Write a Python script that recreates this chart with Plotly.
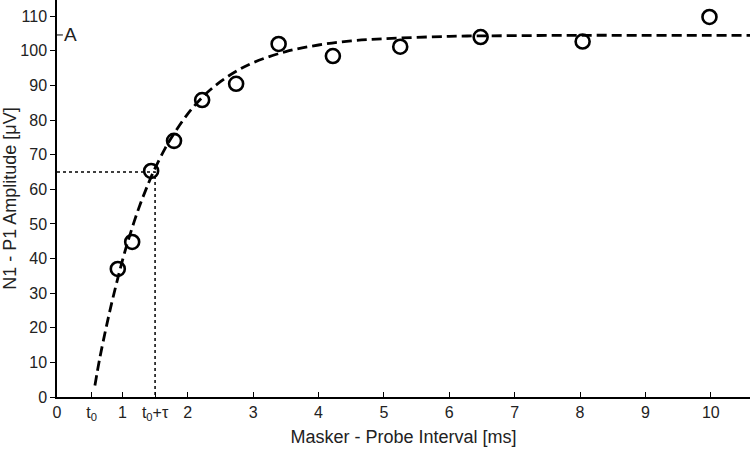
import plotly.graph_objects as go

# measured amplitudes (open circles)
interval_ms = [0.93, 1.15, 1.44, 1.79, 2.22, 2.74, 3.39, 4.22, 5.25, 6.48, 8.04, 9.98]
amplitude_uv = [37.0, 44.8, 65.3, 74.0, 85.8, 90.5, 102.0, 98.5, 101.2, 104.0, 102.7, 109.8]

# fitted curve (dashed)
fit_x = [0.58, 0.65, 0.75, 0.85, 1.0, 1.1, 1.25, 1.4, 1.5, 1.65, 1.75, 2.0, 2.25, 2.5,
         2.75, 3.0, 3.5, 4.0, 4.5, 5.0, 6.0, 7.0, 8.0, 9.0, 10.0, 10.6]
fit_y = [3.3, 10.8, 19.9, 28.2, 39.4, 45.9, 54.5, 61.8, 66.1, 71.7, 74.9, 81.8, 87.1, 91.1,
         94.2, 96.6, 99.8, 101.7, 102.9, 103.5, 104.2, 104.4, 104.5, 104.5, 104.5, 104.5]

# t0 + tau marker
tau_x = [0.0, 1.5, 1.5]
tau_y = [65.0, 65.0, 0.0]

tick_vals = [0, 0.53, 1, 1.5, 2, 3, 4, 5, 6, 7, 8, 9, 10]
tick_text = ["0", "t<sub>0</sub>", "1", "t<sub>0</sub>+τ", "2", "3", "4", "5", "6", "7", "8", "9", "10"]

fig = go.Figure()

fig.add_trace(go.Scatter(
    x=tau_x, y=tau_y, mode="lines",
    line=dict(color="black", width=1.5, dash="dot"),
    hoverinfo="skip",
))

fig.add_trace(go.Scatter(
    x=fit_x, y=fit_y, mode="lines",
    line=dict(color="black", width=2.8, dash="10px,5px", shape="spline"),
))

fig.add_trace(go.Scatter(
    x=interval_ms, y=amplitude_uv, mode="markers",
    marker=dict(symbol="circle-open", size=14, color="black", line=dict(width=2.6, color="black")),
))

font = "Liberation Sans, Arial, sans-serif"

fig.update_layout(
    width=752,
    height=452,
    margin=dict(l=57, r=2, t=0, b=55),
    plot_bgcolor="white",
    paper_bgcolor="white",
    showlegend=False,
    font=dict(family=font, size=16, color="#222"),
    xaxis=dict(
        range=[0, 10.6],
        tickvals=tick_vals,
        ticktext=tick_text,
        ticks="inside",
        ticklen=5,
        tickwidth=1.2,
        tickcolor="black",
        showline=True,
        linecolor="black",
        linewidth=1.5,
        showgrid=False,
        zeroline=False,
        automargin=False,
        title=dict(text="Masker - Probe Interval [ms]", font=dict(size=18), standoff=8),
    ),
    yaxis=dict(
        range=[0, 114.7],
        tickvals=list(range(0, 111, 10)),
        ticks="outside",
        ticklen=5,
        tickwidth=1.2,
        tickcolor="black",
        showline=True,
        linecolor="black",
        linewidth=1.5,
        showgrid=False,
        zeroline=False,
        automargin=False,
        title=dict(text="N1 - P1 Amplitude [μV]", font=dict(size=18), standoff=8),
    ),
    shapes=[dict(type="line", xref="x", yref="y", x0=0, x1=0.09, y0=104.6, y1=104.6,
                 line=dict(color="black", width=1))],
    annotations=[dict(text="A", x=0.08, y=104.6, xref="x", yref="y", showarrow=False,
                      xanchor="left", yanchor="middle", font=dict(size=19, color="#222"))],
)

# page body has a default margin; drop it so the figure fills the window
fig.write_html("out.html", config={"displayModeBar": False},
               post_script="document.body.style.margin='0';")
